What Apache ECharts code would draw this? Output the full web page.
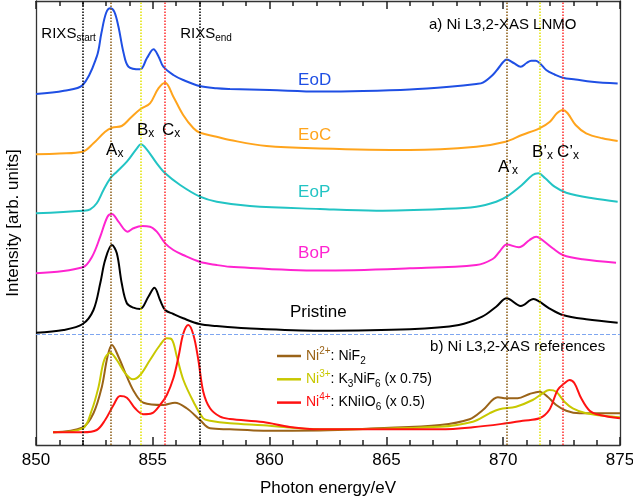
<!DOCTYPE html>
<html><head><meta charset="utf-8">
<script src="https://cdn.jsdelivr.net/npm/echarts/dist/echarts.min.js"></script>
<style>html,body{margin:0;padding:0;background:#fff}#c{width:633px;height:499px}</style>
</head><body><div id="c"></div>
<script>
// Photon energy (eV), intensity (arb. units, stacked with offsets)
const EoD = [[850.0,351],[851.2,354.3],[852.0,360],[852.6,388.3],[852.8,412],[853.0,432],[853.18,436.7],[853.35,433.3],[853.53,418.3],[853.75,392],[853.96,378.3],[854.46,375.7],[854.75,387],[855.03,395.7],[855.25,388.3],[855.45,378.3],[855.88,370],[856.3,365],[857.0,359],[857.73,356.7],[858.3,356],[860.0,355],[862.15,353.5],[864.0,354],[866.0,355.5],[867.7,358.3],[868.85,361],[869.13,362.3],[869.55,370],[869.8,377],[870.0,383],[870.15,385.5],[870.45,382],[870.75,378.3],[871.0,382],[871.2,384.3],[871.4,384.3],[871.6,381],[871.84,375],[872.2,370.5],[872.55,367.3],[873.1,365.5],[873.8,363.3],[874.9,361.5]];
const EoC = [[850.0,290.7],[851.0,291.5],[852.0,293.3],[852.46,301.7],[852.96,313.3],[853.25,317.3],[853.67,319],[854.03,326.7],[854.46,335.7],[854.88,341.7],[855.24,356.7],[855.53,362.3],[855.88,348.3],[856.3,330],[856.74,316.7],[857.02,312.3],[857.73,308.3],[858.3,305],[859.87,299],[862.15,296.5],[866.0,295],[868.85,298.3],[870.1,303.3],[870.8,310],[871.55,316.7],[872.0,323.3],[872.3,331.7],[872.55,335],[872.75,332],[873.1,320],[873.55,311.7],[874.25,306.7],[874.9,304]];
const EoP = [[850.0,231.7],[852.03,234.3],[852.32,235.7],[852.6,241.7],[852.89,255],[853.18,266.7],[853.46,273.3],[853.89,283.3],[854.32,296.7],[854.49,300.7],[854.74,295.7],[855.17,281.7],[855.53,271.7],[856.17,260],[857.02,248.3],[857.74,243.3],[859.16,239],[862.15,236],[864.57,234.3],[867.42,236],[868.85,238.3],[869.7,243.3],[870.15,248.3],[870.8,260],[871.26,270],[871.5,271.7],[871.8,266.7],[872.2,258.3],[872.7,252.3],[873.83,246.7],[874.9,243.3]];
const BoP = [[850.0,171.7],[852.0,177.7],[852.4,188.3],[852.75,208.3],[853.06,228.3],[853.25,231],[853.53,223.3],[853.92,213.3],[854.17,216.7],[854.53,219],[854.88,218.3],[855.17,213.3],[855.53,201.7],[855.88,195],[856.3,190],[857.0,183.3],[857.73,180],[858.3,178.3],[862.15,174.5],[866.0,176.7],[868.85,180],[869.55,186],[869.84,193.3],[870.15,200.5],[870.67,197.7],[871.13,205],[871.41,208.3],[871.77,203.3],[872.12,196.7],[872.55,190],[873.4,185.7],[874.83,182.3]];
const Pristine = [[850.0,112.3],[851.18,115],[852.0,121],[852.46,135],[852.75,161.7],[852.96,185],[853.25,200],[853.46,191.7],[853.67,161.7],[853.89,141.7],[854.17,137.3],[854.46,136],[854.81,148.3],[855.07,157.3],[855.31,145],[855.53,135],[855.88,131],[856.3,126.7],[857.0,121],[857.73,119],[859.0,116.7],[862.15,114.3],[866.0,115.7],[868.1,120],[869.1,128.3],[869.7,138.3],[870.15,146.7],[870.75,139],[871.3,146],[871.55,143.3],[871.97,136.7],[872.55,130],[873.55,125.7],[874.9,122.3]];
const NiF2 = [[850.73,12.7],[852.0,17.7],[852.46,31.7],[852.82,58.3],[853.06,88.3],[853.25,100],[853.53,88.3],[853.89,68.3],[854.24,51.7],[854.6,42.3],[855.45,40],[855.95,42.3],[856.45,36.7],[857.02,25],[857.45,16.7],[858.3,15.7],[859.73,14.3],[862.15,14.5],[864.57,16.7],[867.3,20],[868.56,25.7],[869.13,35],[869.77,47.7],[870.13,46.7],[870.62,46.7],[871.13,51],[871.55,53.3],[871.9,48.3],[872.27,40],[872.7,34.3],[873.27,31.7],[875.0,31.7]];
const K3NiF6 = [[850.73,12.7],[852.0,16.7],[852.39,35],[852.68,58.3],[852.92,85],[853.18,92.3],[853.46,85],[853.82,71.7],[854.15,65.7],[854.46,70],[854.88,85],[855.31,100],[855.6,106.7],[855.81,105.7],[856.03,88.3],[856.31,65],[856.74,43.3],[857.16,26.7],[857.45,24.3],[858.3,21.7],[859.73,19.7],[862.15,15.7],[867.28,18.3],[868.7,23.3],[869.41,31.7],[869.84,35.7],[870.55,38.3],[871.26,45],[871.69,51.7],[871.97,55],[872.27,53.3],[872.62,43.3],[872.98,36.7],[873.55,31.7],[874.4,29],[875.0,27.7]];
const KNiIO6 = [[850.73,12.7],[852.0,12.7],[852.6,15],[852.96,25],[853.32,40],[853.6,49],[853.89,47.3],[854.24,36.7],[854.6,30.7],[854.96,31.7],[855.31,40],[855.6,50],[855.88,66.7],[856.1,88.3],[856.31,111.7],[856.52,120],[856.74,110],[856.95,85],[857.16,53.3],[857.45,36.7],[857.88,28.3],[858.3,26],[859.73,23],[860.87,18],[862.15,15.7],[867.28,15.7],[868.7,17.7],[870.13,21.7],[870.84,24.3],[871.55,26.7],[871.97,35],[872.33,55],[872.62,61.7],[872.84,65],[873.05,61.7],[873.34,46.7],[873.7,34.3],[874.13,30],[875.0,26.7]];
// Marker energies
const rixsLines = [852.0, 857.0];
const brownLines = [853.2, 870.15];
const yellowLines = [854.5, 871.55];
const redLines = [855.5, 872.56];
const separatorLevel = 111;
const xTicks = {min: 850, max: 875, step: 5, minorStep: 1};
const yRange = {min: 0, max: 444};

const FONT = 'Liberation Sans, Arial, sans-serif';
const C = {EoD:'#1f4fe4', EoC:'#ffa41c', EoP:'#22c4c4', BoP:'#ff24d0', Pristine:'#000000',
  NiF2:'#9a6318', K3NiF6:'#c8c800', KNiIO6:'#ff1212'};
const G = {left:36, top:1, width:584, height:444};

const chart = echarts.init(document.getElementById('c'), null, {renderer:'canvas'});

function curve(name, data, color) {
  return {type:'line', name, data, showSymbol:false, symbol:'none', smooth:0.35,
    lineStyle:{color, width:2}, itemStyle:{color}, silent:true, z:3};
}
function vline(x, color) {
  return {xAxis:x, lineStyle:{color, type:'dotted', width:1.5}};
}
const marks = [];
rixsLines.forEach(x => marks.push(vline(x, '#000')));
brownLines.forEach(x => marks.push(vline(x, '#8a5a10')));
yellowLines.forEach(x => marks.push(vline(x, '#e2e200')));
redLines.forEach(x => marks.push(vline(x, '#ff2a2a')));
marks.push({yAxis: separatorLevel, lineStyle:{color:'#7ea6f0', type:'dashed', width:1}});

const AXC = '#222';
function axLine(show) { return {show:show, onZero:false, lineStyle:{color:'#333', width:1.3}}; }
// x axes: major (interval 5) and minor (interval 1) tick sets, bottom and top
function xAx(pos, step, len, labels, line) {
  const ax = {type:'value', min:xTicks.min, max:xTicks.max, interval:step, position:pos,
    axisLine:axLine(line), splitLine:{show:false},
    axisTick:{show:true, inside:true, length:len, lineStyle:{color:AXC, width:1.5}},
    axisLabel: labels ? {show:true, fontSize:17, color:'#000', margin:7, fontFamily:FONT}
                      : {show:true, color:'rgba(0,0,0,0)', fontSize:1}};
  if (labels) {
    ax.name = 'Photon energy/eV'; ax.nameLocation = 'middle'; ax.nameGap = 35;
    ax.nameTextStyle = {fontSize:17, color:'#000', fontFamily:FONT};
  }
  return ax;
}

// Text annotations anchored in data coordinates [energy, intensity]
const richBase = {
  m:{fontSize:15, lineHeight:18, fill:'#000', fontFamily:FONT},
  s:{fontSize:10, lineHeight:10, verticalAlign:'bottom', fill:'#000', fontFamily:FONT},
  L:{fontSize:17, lineHeight:20, fill:'#000', fontFamily:FONT},
  x:{fontSize:12, lineHeight:12, verticalAlign:'bottom', fill:'#000', fontFamily:FONT}
};
const notes = [
  {e:850.23, v:411, t:'{m|RIXS}{s|start}'},
  {e:856.17, v:411, t:'{m|RIXS}{s|end}'},
  {e:866.82, v:420, t:'{m|a) Ni L3,2-XAS LNMO}'},
  {e:866.87, v:98, t:'{m|b) Ni L3,2-XAS references}'},
  {e:853.0, v:295, t:'{L|A}{x|x}'},
  {e:854.32, v:315, t:'{L|B}{x|x}'},
  {e:855.39, v:315, t:'{L|C}{x|x}'},
  {e:869.78, v:278, t:'{L|A’}{x|x}'},
  {e:871.23, v:293, t:'{L|B’}{x|x}'},
  {e:872.3, v:293, t:'{L|C’}{x|x}'},
  {e:861.22, v:365, t:'EoD', c:C.EoD},
  {e:861.22, v:310, t:'EoC', c:C.EoC},
  {e:861.22, v:252.3, t:'EoP', c:C.EoP},
  {e:861.22, v:192, t:'BoP', c:C.BoP},
  {e:860.87, v:132.3, t:'Pristine', c:'#000'}
];
function toPx(e, v) {
  return [G.left + (e - xTicks.min) / (xTicks.max - xTicks.min) * G.width,
          G.top + (yRange.max - v) / (yRange.max - yRange.min) * G.height];
}
const graphics = notes.map(n => {
  const p = toPx(n.e, n.v);
  const st = n.c ? {text:n.t, fill:n.c, fontSize:17, fontFamily:FONT, align:'left', verticalAlign:'middle'}
                 : {text:n.t, rich:richBase, fill:'#000', fontSize:15, fontFamily:FONT, align:'left', verticalAlign:'middle'};
  return {type:'text', x:p[0], y:p[1], z:10, silent:true, style:st};
});

function dummy(xi, yi) {
  return {type:'line', xAxisIndex:xi, yAxisIndex:yi, data:[[850,0]], showSymbol:false, symbol:'none',
    lineStyle:{width:0}, silent:true, z:1};
}

chart.setOption({
  animation:false,
  textStyle:{fontFamily:FONT},
  grid:{left:G.left, top:G.top, width:G.width, height:G.height, outerBoundsMode:'none'},
  xAxis:[
    xAx('bottom', xTicks.step, 8, true, true),
    xAx('top', xTicks.step, 8, false, true),
    xAx('bottom', xTicks.minorStep, 5, false, false),
    xAx('top', xTicks.minorStep, 5, false, false)
  ],
  yAxis:[
    {type:'value', min:yRange.min, max:yRange.max, position:'left', axisLine:axLine(true), axisTick:{show:false},
     axisLabel:{show:false}, splitLine:{show:false},
     name:'Intensity [arb. units]', nameLocation:'middle', nameGap:14,
     nameTextStyle:{fontSize:17, color:'#000', fontFamily:FONT}},
    {type:'value', min:yRange.min, max:yRange.max, position:'right', axisLine:axLine(true), axisTick:{show:false},
     axisLabel:{show:false}, splitLine:{show:false}}
  ],
  legend:{data:['NiF2','K3NiF6','KNiIO6'], orient:'vertical', left:277, top:346, padding:0,
    itemWidth:24, itemHeight:2.5, icon:'rect', itemGap:3.3, selectedMode:false,
    formatter: function(name){
      if (name==='NiF2') return '{a|Ni}{sa|2+}{k|: NiF}{sk|2}';
      if (name==='K3NiF6') return '{b|Ni}{sb|3+}{k|: K}{sk|3}{k|NiF}{sk|6}{k| (x 0.75)}';
      return '{c|Ni}{sc|4+}{k|: KNiIO}{sk|6}{k| (x 0.5)}';
    },
    textStyle:{fontFamily:FONT, rich:{
      a:{color:C.NiF2, fontSize:14, lineHeight:20, fontFamily:FONT},
      sa:{color:C.NiF2, fontSize:10, lineHeight:10, verticalAlign:'top', fontFamily:FONT},
      b:{color:C.K3NiF6, fontSize:14, lineHeight:20, fontFamily:FONT},
      sb:{color:C.K3NiF6, fontSize:10, lineHeight:10, verticalAlign:'top', fontFamily:FONT},
      c:{color:C.KNiIO6, fontSize:14, lineHeight:20, fontFamily:FONT},
      sc:{color:C.KNiIO6, fontSize:10, lineHeight:10, verticalAlign:'top', fontFamily:FONT},
      k:{color:'#000', fontSize:14, lineHeight:20, fontFamily:FONT},
      sk:{color:'#000', fontSize:10, lineHeight:10, verticalAlign:'bottom', fontFamily:FONT}
    }}
  },
  graphic: graphics,
  series:[
    Object.assign(dummy(0, 0), {name:'guides',
      markLine:{symbol:'none', silent:true, label:{show:false}, animation:false, data:marks}}),
    dummy(1, 1), dummy(2, 0), dummy(3, 1),
    curve('EoD', EoD, C.EoD),
    curve('EoC', EoC, C.EoC),
    curve('EoP', EoP, C.EoP),
    curve('BoP', BoP, C.BoP),
    curve('Pristine', Pristine, C.Pristine),
    curve('NiF2', NiF2, C.NiF2),
    curve('K3NiF6', K3NiF6, C.K3NiF6),
    curve('KNiIO6', KNiIO6, C.KNiIO6)
  ]
});
</script>
</body></html>
